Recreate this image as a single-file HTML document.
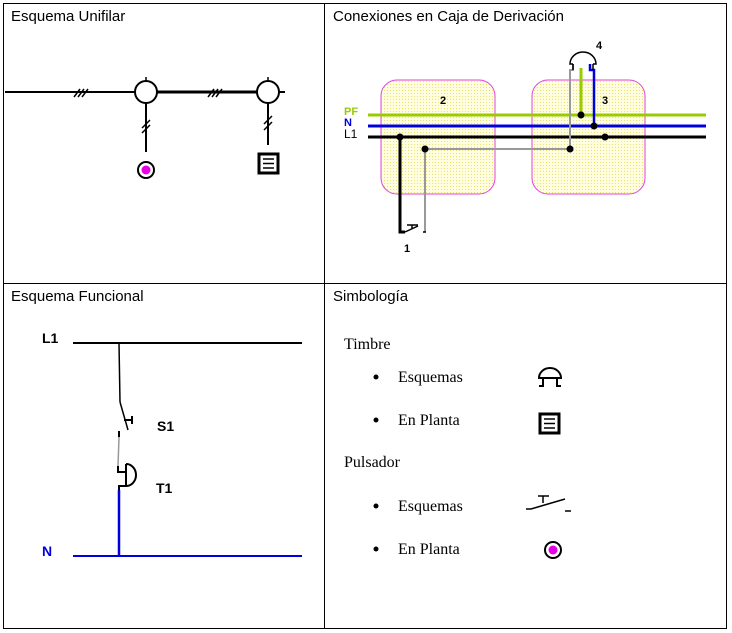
<!DOCTYPE html>
<html><head><meta charset="utf-8"><style>
html,body{margin:0;padding:0;background:#fff;}
svg{display:block;}
.s{font-family:"Liberation Sans",sans-serif;}
.r{font-family:"Liberation Serif",serif;font-size:16px;}
</style></head><body>
<svg width="732" height="633" viewBox="0 0 732 633" xmlns="http://www.w3.org/2000/svg">
<defs>
<pattern id="dots" width="3" height="3" patternUnits="userSpaceOnUse"><rect width="3" height="3" fill="#ffffe0"/><rect width="1" height="1" fill="#e8e070"/></pattern>
</defs>
<g stroke="#000" stroke-width="1" fill="none">
<rect x="3.5" y="3.5" width="723" height="625"/>
<line x1="324.5" y1="3" x2="324.5" y2="629"/>
<line x1="3" y1="283.5" x2="727" y2="283.5"/>
</g>
<g class="s" font-size="15" fill="#000">
<text x="11" y="21">Esquema Unifilar</text>
<text x="333" y="21">Conexiones en Caja de Derivación</text>
<text x="11" y="301">Esquema Funcional</text>
<text x="333" y="301">Simbología</text>
</g>
<g stroke="#000" fill="none">
<line x1="5" y1="92" x2="135" y2="92" stroke-width="2"/>
<line x1="157" y1="92" x2="257" y2="92" stroke-width="3"/>
<line x1="279" y1="92" x2="285" y2="92" stroke-width="2"/>
<circle cx="146" cy="92" r="11" stroke-width="2"/>
<circle cx="268" cy="92" r="11" stroke-width="2"/>
<line x1="146" y1="77" x2="146" y2="81" stroke-width="1.5"/>
<line x1="268" y1="77" x2="268" y2="81" stroke-width="1.5"/>
<path d="M74 97 L80 89 M78 97 L84 89 M82 97 L88 89" stroke-width="1.5"/>
<path d="M208 97 L214 89 M212 97 L218 89 M216 97 L222 89" stroke-width="1.5"/>
<line x1="146" y1="103" x2="146" y2="152" stroke-width="2"/>
<path d="M142 128 L150 120 M142 133 L150 125" stroke-width="1.5"/>
<line x1="268" y1="103" x2="268" y2="145" stroke-width="2"/>
<path d="M264 124 L272 116 M264 130 L272 122" stroke-width="1.5"/>
<circle cx="146" cy="170" r="8" stroke-width="2"/>
<rect x="259" y="154" width="19" height="19" stroke-width="3"/>
<path d="M263 159 H274 M263 163.5 H274 M263 168 H274" stroke-width="1.5"/>
</g>
<circle cx="146" cy="170" r="4.5" fill="#e600e6"/>
<rect x="381" y="80" width="114" height="114" rx="16" fill="url(#dots)" stroke="#e040e0"/>
<rect x="532" y="80" width="113" height="114" rx="16" fill="url(#dots)" stroke="#e040e0"/>
<g fill="none">
<line x1="368" y1="115" x2="706" y2="115" stroke="#99cc00" stroke-width="3"/>
<line x1="368" y1="126" x2="706" y2="126" stroke="#0000dd" stroke-width="3"/>
<line x1="368" y1="137" x2="706" y2="137" stroke="#000" stroke-width="3"/>
<path d="M425 232 V149 H570 V70 H573 V64" stroke="#999" stroke-width="2"/>
<path d="M581 115 V68" stroke="#99cc00" stroke-width="3"/>
<path d="M594 126 V70 H590 V64" stroke="#0000dd" stroke-width="2.5"/>
<path d="M400 137 V232 H405" stroke="#000" stroke-width="3"/>
<path d="M405 232 L418 226 M412 225 V229 M407 225 H418 M423 232 H426" stroke="#000" stroke-width="1.5"/>
<path d="M573 64 H570 A13 12 0 0 1 596 64 H593" stroke="#000" stroke-width="1.5"/>
<path d="M573 64 V70 M593 64 V70" stroke="#000" stroke-width="1.5"/>
</g>
<g fill="#000">
<circle cx="400" cy="137" r="3.5"/><circle cx="425" cy="149" r="3.5"/>
<circle cx="570" cy="149" r="3.5"/><circle cx="581" cy="115" r="3.5"/>
<circle cx="594" cy="126" r="3.5"/><circle cx="605" cy="137" r="3.5"/>
</g>
<g class="s" font-size="11" font-weight="bold">
<text x="344" y="115" fill="#99cc00">PF</text>
<text x="344" y="126" fill="#0000dd">N</text>
<text x="344" y="138" fill="#000" font-weight="normal" font-size="12">L1</text>
<text x="440" y="104">2</text><text x="602" y="104">3</text>
<text x="596" y="49">4</text><text x="404" y="252">1</text>
</g>
<g fill="none">
<line x1="73" y1="343" x2="302" y2="343" stroke="#000" stroke-width="2"/>
<path d="M119 343 L120 402" stroke="#000" stroke-width="1.5"/>
<path d="M120 402 L128 430" stroke="#000" stroke-width="1.5"/>
<path d="M124 420 H132 M132 416 V424" stroke="#000" stroke-width="2"/>
<path d="M119 431 V437" stroke="#000" stroke-width="2"/>
<path d="M119 437 L118 466" stroke="#999" stroke-width="1.5"/>
<path d="M118 466 V472 H126 M126 464 V486 M126 464 A10 11 0 0 1 126 486 M126 486 H119 V492" stroke="#000" stroke-width="2"/>
<line x1="119" y1="490" x2="119" y2="556" stroke="#0000dd" stroke-width="2.5"/>
<line x1="73" y1="556" x2="302" y2="556" stroke="#0000dd" stroke-width="2"/>
</g>
<g class="s" font-size="14" font-weight="bold">
<text x="42" y="343">L1</text>
<text x="157" y="431">S1</text>
<text x="156" y="493">T1</text>
<text x="42" y="556" fill="#0000dd">N</text>
</g>
<g class="r">
<text x="344" y="349">Timbre</text>
<text x="398" y="382">Esquemas</text>
<text x="398" y="425">En Planta</text>
<text x="344" y="467">Pulsador</text>
<text x="398" y="511">Esquemas</text>
<text x="398" y="554">En Planta</text>
</g>
<g fill="#000"><circle cx="376" cy="377" r="2.5"/><circle cx="376" cy="420" r="2.5"/><circle cx="376" cy="506" r="2.5"/><circle cx="376" cy="549" r="2.5"/></g>
<g fill="none" stroke="#000">
<path d="M539 378 A11 10 0 0 1 561 378 Z" stroke-width="2"/>
<path d="M543 378 V386 H539 M557 378 V386 H561" stroke-width="2"/>
<rect x="540" y="414" width="19" height="19" stroke-width="3"/>
<path d="M544 419 H555 M544 423.5 H555 M544 428 H555" stroke-width="1.5"/>
<path d="M526 509 H531 L565 499 M543 496 V503 M538 496 H549 M565 511 H571" stroke-width="1.5"/>
<circle cx="553" cy="550" r="8" stroke-width="2"/>
</g>
<circle cx="553" cy="550" r="4.5" fill="#e600e6"/>
</svg>
</body></html>
